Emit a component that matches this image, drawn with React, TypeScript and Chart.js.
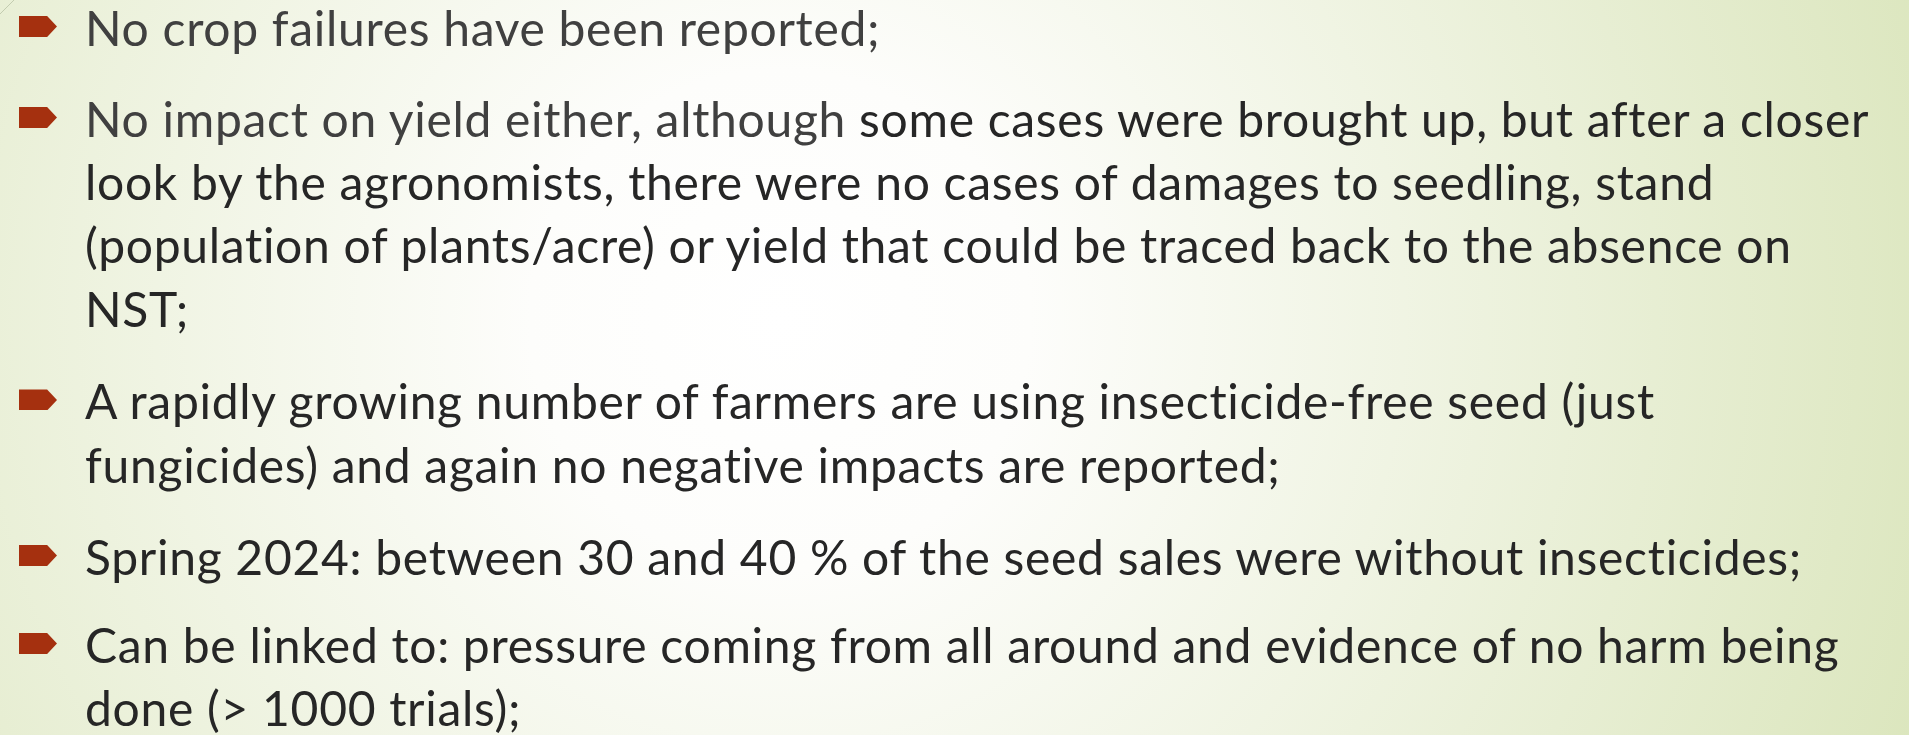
import React, { useEffect, useRef } from "react";
import { Chart, registerables } from "chart.js";

Chart.register(...registerables);

// ---- Slide content (text lines per bullet) ----
const bullet1: string[] = ["No crop failures have been reported;"];
const bullet2: string[] = [
  "No impact on yield either, although some cases were brought up, but after a closer",
  "look by the agronomists, there were no cases of damages to seedling, stand",
  "(population of plants/acre) or yield that could be traced back to the absence on",
  "NST;",
];
const bullet3: string[] = [
  "A rapidly growing number of farmers are using insecticide-free seed (just",
  "fungicides) and again no negative impacts are reported;",
];
const bullet4: string[] = [
  "Spring 2024: between 30 and 40 % of the seed sales were without insecticides;",
];
const bullet5: string[] = [
  "Can be linked to: pressure coming from all around and evidence of no harm being",
  "done (> 1000 trials);",
];
const greyPrefixes: string[] = ["No crop failures have been reported;", "No impact on yield either, although"];

const paragraphs: string[][] = [bullet1, bullet2, bullet3, bullet4, bullet5];

// ---- layout constants ----
const W = 1909;
const H = 735;
const BASELINES = [46, 137, 419.5, 575, 663];
const LINE_H = 63.3;
const FONT_SIZE = 48;
const BASE_OFFSET = 50.2; // baseline distance from top of first line box
const TEXT_X = 85;

const bgPlugin = {
  id: "slideBg",
  beforeDraw(chart: any) {
    const ctx = chart.ctx as CanvasRenderingContext2D;
    const w = chart.width;
    const h = chart.height;
    ctx.save();
    const g = ctx.createRadialGradient(780, 320, 0, 780, 320, 1250);
    g.addColorStop(0, "#ffffff");
    g.addColorStop(0.2, "#fdfdfb");
    g.addColorStop(1, "#dae5bb");
    ctx.fillStyle = g;
    ctx.fillRect(0, 0, w, h);
    ctx.strokeStyle = "rgba(170,180,150,0.6)";
    ctx.lineWidth = 1;
    ctx.beginPath();
    ctx.moveTo(0, 14);
    ctx.lineTo(14, 0);
    ctx.stroke();
    ctx.restore();
  },
};

function renderLine(line: string, li: number) {
  const prefix = greyPrefixes.find((p) => li === 0 && line.startsWith(p));
  if (prefix) {
    return (
      <div key={li} style={{ whiteSpace: "nowrap" }}>
        <span style={{ color: "#404040" }}>{prefix}</span>
        <span>{line.slice(prefix.length)}</span>
      </div>
    );
  }
  return (
    <div key={li} style={{ whiteSpace: "nowrap" }}>
      {line}
    </div>
  );
}

export default function App() {
  const canvasRef = useRef<HTMLCanvasElement | null>(null);

  useEffect(() => {
    if (!canvasRef.current) return;
    const chart = new Chart(canvasRef.current, {
      type: "scatter",
      data: { datasets: [{ data: [] as any[] }] },
      options: {
        animation: false,
        responsive: false,
        maintainAspectRatio: false,
        devicePixelRatio: 1,
        layout: { padding: 0 },
        plugins: { legend: { display: false }, tooltip: { enabled: false } },
        scales: { x: { display: false }, y: { display: false } },
      },
      plugins: [bgPlugin],
    });
    return () => chart.destroy();
  }, []);

  return (
    <div
      style={{
        position: "absolute",
        left: 0,
        top: 0,
        width: W,
        height: H,
        overflow: "hidden",
        fontFamily: "Lato, 'Open Sans', sans-serif",
      }}
    >
      <canvas
        ref={canvasRef}
        width={W}
        height={H}
        style={{ position: "absolute", left: 0, top: 0, width: W, height: H }}
      />
      {paragraphs.map((lines, pi) => (
        <div
          key={pi}
          style={{
            position: "absolute",
            left: TEXT_X,
            top: BASELINES[pi] - BASE_OFFSET,
            fontSize: FONT_SIZE,
            letterSpacing: "0.7px",
            lineHeight: LINE_H + "px",
            color: "#262626",
          }}
        >
          <div
            style={{
              position: "absolute",
              left: 19 - TEXT_X,
              top: BASE_OFFSET - 30,
              width: 38,
              height: 21,
              background: "#a5300f",
              clipPath: "polygon(0 0, 74% 0, 100% 50%, 74% 100%, 0 100%)",
            }}
          />
          {lines.map((line, li) => renderLine(line, li))}
        </div>
      ))}
    </div>
  );
}
